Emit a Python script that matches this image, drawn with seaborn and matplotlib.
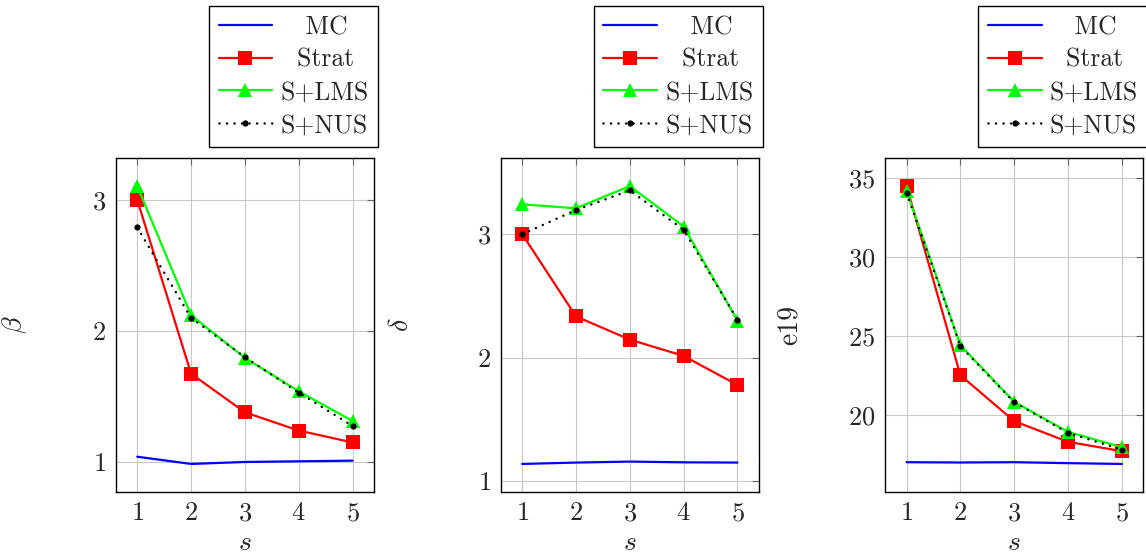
import numpy as np
import pandas as pd
import seaborn as sns
import matplotlib.pyplot as plt

# sample sizes
s_vals = [1, 2, 3, 4, 5]

# panel 1: beta
beta_mc = [1.04, 0.985, 1.0, 1.005, 1.01]
beta_strat = [3.0, 1.674, 1.379, 1.24, 1.149]
beta_lms = [3.106, 2.12, 1.795, 1.54, 1.313]
beta_nus = [2.79, 2.10, 1.80, 1.53, 1.275]

# panel 2: delta
delta_mc = [1.137, 1.148, 1.156, 1.15, 1.148]
delta_strat = [3.0, 2.333, 2.145, 2.013, 1.777]
delta_lms = [3.242, 3.21, 3.39, 3.062, 2.30]
delta_nus = [3.0, 3.196, 3.355, 3.035, 2.306]

# panel 3: e19
e19_mc = [17.02, 17.0, 17.02, 16.96, 16.91]
e19_strat = [34.51, 22.53, 19.62, 18.31, 17.72]
e19_lms = [34.2, 24.43, 20.84, 18.94, 17.97]
e19_nus = [34.09, 24.37, 20.82, 18.88, 17.82]

series_names = ["MC", "Strat", "S+LMS", "S+NUS"]
legend_labels = ["   MC", "  Strat", "S+LMS", "S+NUS"]
y_labels = [r"$\beta$", r"$\delta$", "e19"]
y_ticks = [[1, 2, 3], [1, 2, 3], [20, 25, 30, 35]]

panels = [
    [beta_mc, beta_strat, beta_lms, beta_nus],
    [delta_mc, delta_strat, delta_lms, delta_nus],
    [e19_mc, e19_strat, e19_lms, e19_nus],
]

styles = {
    "MC": dict(color="#0000ff", linewidth=1.6),
    "Strat": dict(color="#ff0000", linewidth=1.6, marker="s", markersize=10,
                  markeredgewidth=0),
    "S+LMS": dict(color="#00ff00", linewidth=1.6, marker="^", markersize=10,
                  markeredgewidth=0),
    "S+NUS": dict(color="black", linewidth=1.8, linestyle=(0, (0.01, 3.0)),
                  dash_capstyle="round", marker="o", markersize=4.5,
                  markeredgewidth=0),
}

sns.set_theme(style="white")
plt.rcParams["font.family"] = ["cmr10", "DejaVu Serif"]
plt.rcParams["mathtext.fontset"] = "cm"
plt.rcParams["axes.formatter.use_mathtext"] = True
plt.rcParams["axes.unicode_minus"] = False

fig = plt.figure(figsize=(11.46, 5.57), dpi=100)

ax_lefts = [0.101, 0.4369, 0.7723]
label_x = [-0.335, -0.335, -0.32]

for i, data in enumerate(panels):
    ax = fig.add_axes([ax_lefts[i], 0.1172, 0.2254, 0.5986])
    for name, lab, vals in zip(series_names, legend_labels, data):
        sns.lineplot(x=s_vals, y=vals, ax=ax, label=lab, **styles[name])

    lo = min(min(v) for v in data)
    hi = max(max(v) for v in data)
    pad = 0.1 * (hi - lo)
    ax.set_ylim(lo - pad, hi + pad)
    ax.set_xlim(0.6, 5.4)
    ax.set_xticks(s_vals)
    ax.set_yticks(y_ticks[i])

    ax.grid(True, color="#c8c8c8", linewidth=0.8)
    ax.set_axisbelow(True)
    for sp in ax.spines.values():
        sp.set_color("black")
        sp.set_linewidth(1.0)
    ax.tick_params(direction="in", length=5, width=0.8, color="#666666",
                   top=True, right=True, labelsize=19, pad=7)

    ax.set_xlabel(r"$s$", fontsize=20, labelpad=3)
    ax.set_ylabel(y_labels[i], fontsize=20)
    ax.yaxis.set_label_coords(label_x[i], 0.5)

    leg = ax.legend(loc="lower right", bbox_to_anchor=(1.016, 1.034),
                    borderaxespad=0, fontsize=18.5, frameon=True,
                    fancybox=False, framealpha=1, edgecolor="black",
                    handlelength=2.1, handletextpad=0.3, labelspacing=0.35,
                    borderpad=0.38)
    leg.get_frame().set_linewidth(1.0)

fig.savefig("out.png", dpi=100)
